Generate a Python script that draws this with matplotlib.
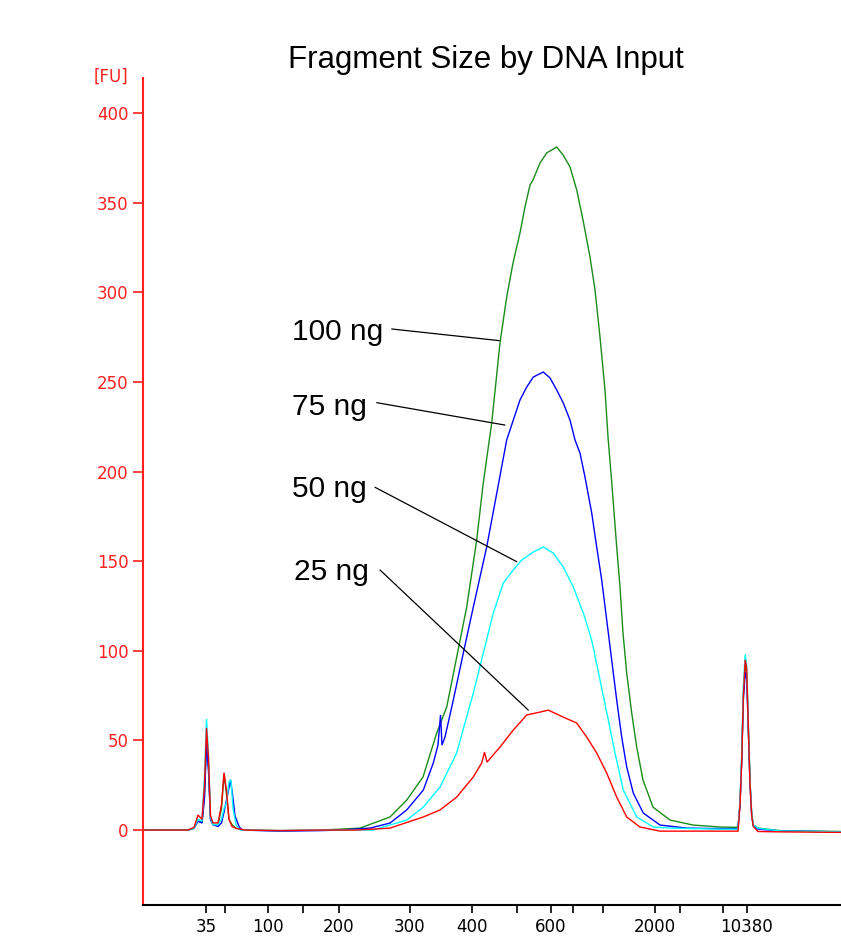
import matplotlib
matplotlib.use("Agg")
import matplotlib.pyplot as plt

# ---------------- data (migration position vs fluorescence [FU]) ----------------
green_x = [143, 188, 194, 198, 202, 204.5, 206.5, 208.5, 210.5, 213, 218, 221.5, 224, 226.5, 229, 232, 236,
           245, 280, 320, 340, 360, 390, 406.7, 423, 436.7, 446.7, 456.7, 466.7, 476.7, 483, 491.7, 500,
           506.7, 513, 520, 525, 530, 533, 540, 546.7, 556.7, 563, 570, 576.7, 583, 590, 595, 600, 605, 608,
           611.7, 616.7, 620, 623, 626.7, 631.7, 636.7, 643, 653, 670, 693, 720, 738, 740, 741.7, 743.3,
           745.2, 746.7, 748.3, 750, 751.7, 753.3, 758, 780, 841]
green_y = [0, 0, 1, 5, 4, 20, 50, 35, 6, 3, 3, 12, 31, 20, 6, 3, 1,
           0, -0.3, 0, 0.5, 1.1, 7.3, 16.7, 29.6, 54.1, 68.6, 96.5, 124.4, 161.8, 192.5, 227.1, 271.7,
           297.4, 316.3, 333.1, 347.6, 359.8, 362.6, 372.1, 377.7, 381.0, 376.6, 369.9, 357.1, 340.3, 319.7,
           301.3, 275.0, 245.5, 219.3, 194.2, 157.9, 135.6, 109.9, 87.6, 65.3, 46.3, 27.9, 12.8, 5.6, 2.8,
           1.7, 1.5, 15, 40, 75, 92, 88, 58, 27, 9, 2.8, 1.1, -0.3, -0.8]

blue_x = [143, 188, 194, 198, 202, 204.5, 206.5, 208.5, 210.5, 213, 218, 221.5, 224, 227, 230.5, 232.5, 235,
          239, 242, 280, 320, 340, 370, 390, 406.7, 423.3, 433.3, 438, 440.5, 442, 445, 453.3, 463.3,
          473.3, 486.7, 498.3, 506.7, 513.3, 520, 526.7, 533.3, 543.3, 550, 556.7, 563.3, 570, 575, 580,
          585, 591.7, 596.7, 601.7, 606.7, 611.7, 616.7, 621.7, 626.7, 633.3, 643.3, 660, 686.7, 720, 738,
          740, 741.7, 743.3, 745.2, 746.7, 748.3, 750, 751.7, 753.3, 758, 780, 841]
blue_y = [0, 0, 1, 5, 4, 18, 48, 33, 6, 3, 2, 4, 10, 18, 28, 20, 8,
          2, 0, -0.6, -0.3, 0, 1.1, 3.9, 11.2, 22.3, 37.4, 47.4, 64.2, 47.4, 51.9, 72.5, 98.7,
          124.4, 157.9, 192.5, 217.6, 228.7, 239.9, 247.1, 252.7, 255.5, 252.2, 245.5, 238.2, 228.7, 217.6,
          210.3, 196.9, 176.9, 157.9, 139.5, 117.2, 94.8, 72.5, 51.9, 35.2, 20.6, 9.5, 2.8, 1.1, 0.8, 0.8,
          14, 38, 72, 88, 84, 56, 26, 8, 2.5, 0.5, -0.5, -1]

cyan_x = [143, 188, 194, 198, 202, 204.5, 206.5, 208.5, 210.5, 213, 218, 221.5, 224, 226.5, 229, 231, 233,
          236, 240, 280, 320, 340, 373, 406.7, 423.3, 440, 456.7, 473.3, 483.3, 493.3, 503.3, 513.3, 521.7,
          533.3, 543.3, 553.3, 563.3, 573.3, 583.3, 591.7, 600, 608.3, 615, 623.3, 636.7, 653.3, 670, 720,
          738, 740, 741.7, 743.3, 745.2, 746.7, 748.3, 750, 751.7, 753.3, 758, 780, 841]
cyan_y = [0, 0, 1, 6, 5, 30, 62, 42, 7, 3, 3, 6, 12, 15, 27, 28, 12,
          3, 0, -0.3, 0, 0, 0, 5.6, 12.8, 24.0, 43.0, 76.4, 98.7, 121.1, 137.8, 145.1, 150.6,
          155.1, 157.9, 154.5, 146.7, 135.6, 121.1, 106.0, 83.7, 61.4, 43.0, 22.3, 7.3, 1.7, 1.1, 0.5,
          0.5, 16, 42, 80, 98, 92, 60, 28, 9, 2.8, 1.0, -0.5, -1]

red_x = [143, 188, 194, 198, 202, 204.5, 206.5, 208.5, 210.5, 213, 218, 221.5, 224, 226.5, 229, 232, 236,
         245, 280, 320, 340, 356.7, 390, 423.3, 440, 456.7, 473.3, 481.7, 484.5, 487, 500, 513.3, 526.7,
         540, 548.3, 563.3, 576.7, 586.7, 596.7, 606.7, 616.7, 626.7, 640, 660, 720, 738, 740, 741.7,
         743.3, 745.2, 746.7, 748.3, 750, 751.7, 753.3, 758, 780, 841]
red_y = [0, 0, 1.5, 8.4, 6, 25, 57, 40, 8, 4, 4, 14, 32, 22, 6, 2, 1,
         0, -0.3, 0, 0, 0, 1.1, 7.3, 11.2, 18.4, 29.6, 37.4, 43.5, 37.9, 46.3, 55.8, 64.2,
         65.8, 66.9, 63.0, 59.7, 51.9, 43.0, 31.8, 18.4, 7.3, 1.7, -0.6, -0.6, -0.6, 14, 38,
         74, 95, 90, 58, 26, 8, 2, -0.8, -1, -1.3]

series_order = ["100 ng", "75 ng", "50 ng", "25 ng"]
series_colors = {"100 ng": "#1a8c1a", "75 ng": "#0000ff", "50 ng": "#00ffff", "25 ng": "#ff0000"}

# x ticks (fragment size in bp at ladder positions)
xtick_pos = [206.4, 224.5, 267.7, 302.7, 339, 409.5, 471.7, 516.7, 551, 573.3, 603.3, 655, 680, 723.2, 746.8]
xtick_lab = ["35", "", "100", "", "200", "300", "400", "", "600", "", "", "2000", "", "", "10380"]
ytick_vals = [0, 50, 100, 150, 200, 250, 300, 350, 400]

# annotations: label, text baseline position, leader line start, leader line end
ann_labels = ["100 ng", "75 ng", "50 ng", "25 ng"]
ann_text_xy = [(292, 273.4), (292, 231.5), (292, 185.8), (294, 139.5)]
ann_line_start = [(391.7, 279.5), (376.7, 238.4), (375, 191.2), (380, 145.1)]
ann_line_end = [(499.3, 273.0), (505, 225.9), (516.7, 149.7), (528.3, 66.9)]

# ---------------- plotting ----------------
fig = plt.figure(figsize=(8.41, 9.40), dpi=100)
ax = fig.add_axes([143 / 841, 35 / 940, 698 / 841, 827 / 940])

data = {"100 ng": (green_x, green_y), "75 ng": (blue_x, blue_y),
        "50 ng": (cyan_x, cyan_y), "25 ng": (red_x, red_y)}
for name in series_order:
    xs, ys = data[name]
    ax.plot(xs, ys, color=series_colors[name], lw=1.0, solid_joinstyle="miter")

ax.set_xlim(143, 841)
ax.set_ylim(-41.8, 419.5)

for s in ["top", "right"]:
    ax.spines[s].set_visible(False)
ax.spines["left"].set_color("#ff2020")
ax.spines["left"].set_linewidth(1.5)
ax.spines["bottom"].set_color("black")
ax.spines["bottom"].set_linewidth(1.5)

ax.set_yticks(ytick_vals)
ax.set_yticklabels([str(v) for v in ytick_vals])
ax.tick_params(axis="y", colors="#ff2020", labelcolor="#ff2020", length=7, width=1.2,
               pad=3.5, labelsize=12)
ax.set_xticks(xtick_pos)
ax.set_xticklabels(xtick_lab)
ax.tick_params(axis="x", colors="black", length=6, width=1.2, pad=3.5, labelsize=12)

fig.text(128 / 841, 1 - 77 / 940, "[FU]", color="#ff2020", ha="right", va="center", fontsize=12)

fig.text(486 / 841, 1 - 60 / 940, "Fragment Size by DNA Input", ha="center", va="center",
         fontsize=22.5, family="Liberation Sans")

for lab, txy, ls, le in zip(ann_labels, ann_text_xy, ann_line_start, ann_line_end):
    ax.text(txy[0], txy[1], lab, ha="left", va="baseline", fontsize=21.5, family="Liberation Sans")
    ax.annotate("", xy=le, xytext=ls,
                arrowprops=dict(arrowstyle="-", color="black", lw=0.9, shrinkA=0, shrinkB=0))

fig.savefig("out.png", dpi=100)
